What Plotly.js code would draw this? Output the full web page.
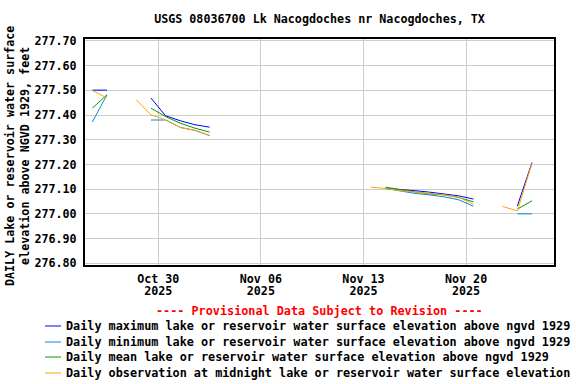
<!DOCTYPE html>
<html>
<head>
<meta charset="utf-8">
<script src="https://cdn.plot.ly/plotly-3.0.1.min.js"></script>
<style>html,body{margin:0;padding:0;background:#fff;}#chart{width:576px;height:384px;}</style>
</head>
<body>
<div id="chart"></div>
<script>
// Daily values plotted at noon, Oct 25 .. Nov 24 2025
const days = [
  "2025-10-25","2025-10-26","2025-10-27","2025-10-28","2025-10-29","2025-10-30","2025-10-31",
  "2025-11-01","2025-11-02","2025-11-03","2025-11-04","2025-11-05","2025-11-06","2025-11-07",
  "2025-11-08","2025-11-09","2025-11-10","2025-11-11","2025-11-12","2025-11-13","2025-11-14",
  "2025-11-15","2025-11-16","2025-11-17","2025-11-18","2025-11-19","2025-11-20","2025-11-21",
  "2025-11-22","2025-11-23","2025-11-24"
];
const N = null;
const dailyMax = [277.501,277.501,N,N,277.469,277.397,277.377,277.361,277.351,N,N,N,N,N,N,N,N,N,N,N,
  277.103,277.100,277.094,277.088,277.081,277.073,277.060,N,N,277.032,277.208];
const dailyMin = [277.372,277.482,N,N,277.380,277.380,277.350,277.338,277.317,N,N,N,N,N,N,N,N,N,N,N,
  277.103,277.092,277.083,277.077,277.069,277.057,277.031,N,N,277.000,277.000];
const dailyMean = [277.428,277.482,N,N,277.428,277.394,277.367,277.347,277.331,N,N,N,N,N,N,N,N,N,N,N,
  277.108,277.097,277.089,277.081,277.077,277.066,277.049,N,N,277.019,277.053];
const dailyMidnight = [277.500,277.469,N,277.462,277.401,277.381,277.350,277.338,277.317,N,N,N,N,N,N,N,N,N,N,277.108,
  277.103,277.094,277.088,277.085,277.077,277.068,277.039,N,277.030,277.012,277.205];

// legend labels as shown in the reference (last one is cut at the image edge there)
const seriesNames = [
  "Daily maximum lake or reservoir water surface elevation above ngvd 1929",
  "Daily minimum lake or reservoir water surface elevation above ngvd 1929",
  "Daily mean lake or reservoir water surface elevation above ngvd 1929",
  "Daily observation at midnight lake or reservoir water surface elevation"
];
const seriesColors = ["#0000ff", "#0a8ad8", "#00a000", "#ffa500"];
const seriesValues = [dailyMax, dailyMin, dailyMean, dailyMidnight];

const xTickVals = ["2025-10-30","2025-11-06","2025-11-13","2025-11-20"];
const xTickMonthDay = ["Oct 30","Nov 06","Nov 13","Nov 20"];
const xTickYear = ["2025","2025","2025","2025"];

const titleText = "USGS 08036700 Lk Nacogdoches nr Nacogdoches, TX";
const yTitleText = "DAILY Lake or reservoir water surface<br>elevation above NGVD 1929, feet";
const provisionalText = "---- Provisional Data Subject to Revision ----";

const FONT = "DejaVu Sans Mono, monospace";
const xDates = days.map(d => d + " 12:00");

const traces = seriesValues.map((v, i) => ({
  type: "scatter", mode: "lines", x: xDates, y: v, name: seriesNames[i],
  xaxis: i === 3 ? "x2" : "x",
  line: {color: seriesColors[i], width: 1}, connectgaps: false, showlegend: false,
  hoverinfo: "skip"
}));

// plot area in pixels: x 85..554, y 39..265
const L = 85, R = 554, T = 39, B = 265, W = R - L, H = B - T;
const px = x => (x - L) / W;
const py = y => (B - y) / H;
const tf = (sz, col) => ({family: FONT, size: sz, color: col || "#000", weight: "bold"});

const annotations = [
  {text: yTitleText, xref: "paper", yref: "paper", x: px(17.5), y: py(156.5), showarrow: false,
   textangle: -90, xanchor: "center", yanchor: "middle", align: "center", font: tf(11.7)},
  {text: provisionalText, xref: "paper", yref: "paper", x: 0.5, y: py(311), showarrow: false,
   xanchor: "center", yanchor: "middle", font: tf(11.8, "#ff0000")}
];
const shapes = [];
const legendRows = [326, 342, 357, 373];
seriesNames.forEach((n, i) => {
  annotations.push({text: n, xref: "paper", yref: "paper", x: px(64), y: py(legendRows[i]),
    showarrow: false, xanchor: "left", yanchor: "middle", font: tf(11.8)});
  shapes.push({type: "line", xref: "paper", yref: "paper", x0: px(45), x1: px(61),
    y0: py(legendRows[i]), y1: py(legendRows[i]), line: {color: seriesColors[i], width: 1}});
});

const xRange = ["2025-10-25 00:00", "2025-11-26 00:00"];
const layout = {
  width: 576, height: 384,
  margin: {l: L, r: 576 - R, t: T, b: 384 - B, pad: 0},
  paper_bgcolor: "#fff", plot_bgcolor: "#fff",
  showlegend: false,
  title: {text: titleText, x: px(319.5), xref: "paper", xanchor: "center", y: 1 - 19/384, yanchor: "middle",
    font: tf(11.7)},
  font: tf(11.7),
  xaxis: {
    type: "date", range: xRange,
    tickmode: "array", tickvals: xTickVals, ticktext: xTickMonthDay,
    showgrid: true, gridcolor: "#cccccc", gridwidth: 1,
    ticks: "", showline: true, linecolor: "#000", linewidth: 2, mirror: true,
    zeroline: false, ticklabelstandoff: 2, tickfont: tf(11.7)
  },
  xaxis2: {
    type: "date", range: xRange, overlaying: "x", side: "bottom", matches: "x",
    tickmode: "array", tickvals: xTickVals, ticktext: xTickYear,
    showgrid: false, ticks: "", showline: false, zeroline: false,
    ticklabelstandoff: 17, tickfont: tf(11.7)
  },
  yaxis: {
    range: [276.793, 277.708], tickmode: "linear", tick0: 276.8, dtick: 0.1, tickformat: ".2f",
    showgrid: true, gridcolor: "#cccccc", gridwidth: 1,
    ticks: "", showline: true, linecolor: "#000", linewidth: 2, mirror: true,
    zeroline: false, ticklabelstandoff: 4, tickfont: tf(11.7)
  },
  annotations: annotations,
  shapes: shapes
};

Plotly.newPlot("chart", traces, layout, {staticPlot: true, displayModeBar: false});
</script>
</body>
</html>
